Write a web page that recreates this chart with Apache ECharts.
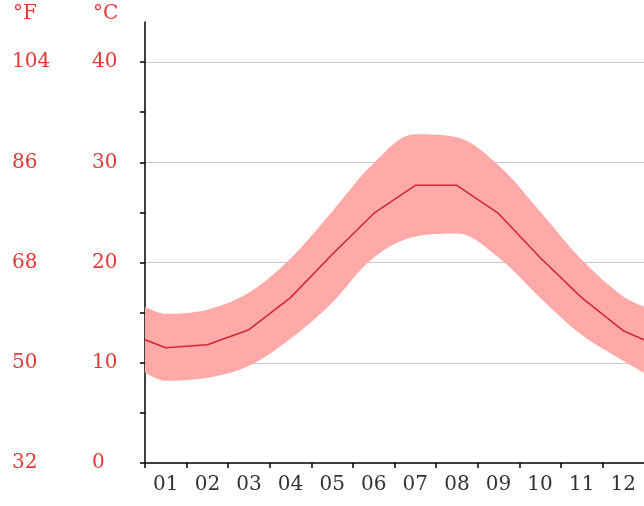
<!DOCTYPE html>
<html>
<head>
<meta charset="utf-8">
<script src="https://cdn.jsdelivr.net/npm/echarts@6/dist/echarts.min.js"></script>
<style>html,body{margin:0;padding:0;background:#fff}#c{width:644px;height:506px}</style>
</head>
<body>
<div id="c"></div>
<script>
// Months (category labels)
const months = ['01','02','03','04','05','06','07','08','09','10','11','12'];
// Mean temperature (°C) per month
const meanTemp = [11.5, 11.8, 13.3, 16.5, 20.8, 24.9, 27.7, 27.7, 24.9, 20.5, 16.5, 13.2];
// Max temperature (°C) per month (upper band edge)
const maxTemp = [14.9, 15.3, 17.0, 20.4, 25.1, 29.9, 32.8, 32.5, 29.7, 25.1, 20.3, 16.6];
// Min temperature (°C) per month (lower band edge)
const minTemp = [8.2, 8.5, 9.7, 12.4, 16.0, 20.5, 22.6, 22.9, 20.5, 16.5, 12.8, 10.2];
// Values read at the left/right plot edges (year wrap)
const edgeMean = 12.3, edgeMax = 15.6, edgeMin = 9.0;
// Tick labels
const celsiusTicks = [0, 10, 20, 30, 40];
const fahrenheitTicks = [32, 50, 68, 86, 104];
const minorCelsiusTicks = [0, 5, 10, 15, 20, 25, 30, 35, 40];

const RED = '#E23A36';
const FONT = 'DejaVu Serif';
const FS = 20;

// points as [value, monthPosition] so the stacked dimension is the value
function withEdges(arr, edge) {
  const pts = [[edge, 0.5]];
  arr.forEach((v, i) => pts.push([v, i + 1]));
  pts.push([edge, 12.5]);
  return pts;
}
const lowPts = withEdges(minTemp, edgeMin);
const highPts = withEdges(maxTemp, edgeMax);
const rangePts = lowPts.map((p, i) => [+(highPts[i][0] - p[0]).toFixed(2), p[1]]);
const meanPts = withEdges(meanTemp, edgeMean);

const cMax = 44;
const fMin = 32, fMax = 32 + cMax * 1.8;

const chart = echarts.init(document.getElementById('c'), null, {renderer: 'canvas'});
chart.setOption({
  animation: false,
  backgroundColor: '#fff',
  grid: {left: 145, top: 22, width: 501, height: 441, containLabel: false},
  graphic: [
    {type: 'text', left: 13, top: 4, style: {text: '°F', fill: RED, font: FS + 'px "' + FONT + '"'}},
    {type: 'text', left: 93, top: 4, style: {text: '°C', fill: RED, font: FS + 'px "' + FONT + '"'}}
  ],
  xAxis: {
    type: 'value', min: 0.5, max: 12.5,
    axisLine: {show: true, lineStyle: {color: '#000', width: 1.5}},
    axisTick: {show: true, length: 5, lineStyle: {color: '#000', width: 1.5},
      customValues: [0.5,1.5,2.5,3.5,4.5,5.5,6.5,7.5,8.5,9.5,10.5,11.5]},
    axisLabel: {show: true, margin: 12, color: '#333', fontFamily: FONT, fontSize: FS,
      customValues: months.map((m, i) => i + 1),
      formatter: v => months[Math.round(v) - 1]},
    splitLine: {show: false}
  },
  yAxis: [
    {
      type: 'value', min: 0, max: cMax, position: 'left',
      axisLine: {show: true, lineStyle: {color: '#000', width: 1.5}},
      axisTick: {show: true, length: 5, lineStyle: {color: '#000', width: 1.5}, customValues: minorCelsiusTicks},
      axisLabel: {show: true, customValues: celsiusTicks, align: 'left', margin: 53,
        color: RED, fontFamily: FONT, fontSize: FS},
      splitLine: {show: false}
    },
    {
      type: 'value', min: fMin, max: fMax, position: 'left',
      axisLine: {show: false}, axisTick: {show: false},
      axisLabel: {show: true, customValues: fahrenheitTicks, align: 'left', margin: 133,
        color: RED, fontFamily: FONT, fontSize: FS},
      splitLine: {show: false}
    },
    {
      type: 'value', min: 0, max: cMax, position: 'right',
      axisLine: {show: false}, axisLabel: {show: false},
      axisTick: {show: false, customValues: [10, 20, 30, 40]},
      splitLine: {show: true, lineStyle: {color: '#c8c8c8', width: 1}}
    }
  ],
  series: [
    {
      type: 'line', yAxisIndex: 0, data: lowPts, encode: {x: 1, y: 0}, stack: 'band', smooth: 0.35,
      symbol: 'none', lineStyle: {opacity: 0}, silent: true, z: 1
    },
    {
      type: 'line', yAxisIndex: 0, data: rangePts, encode: {x: 1, y: 0}, stack: 'band', smooth: 0.35,
      symbol: 'none', lineStyle: {opacity: 0}, areaStyle: {color: '#FFA9A9', opacity: 1}, silent: true, z: 1
    },
    {
      type: 'line', yAxisIndex: 0, data: meanPts, encode: {x: 1, y: 0}, symbol: 'none',
      lineStyle: {color: '#D22630', width: 1.5}, z: 3
    }
  ]
});
</script>
</body>
</html>
